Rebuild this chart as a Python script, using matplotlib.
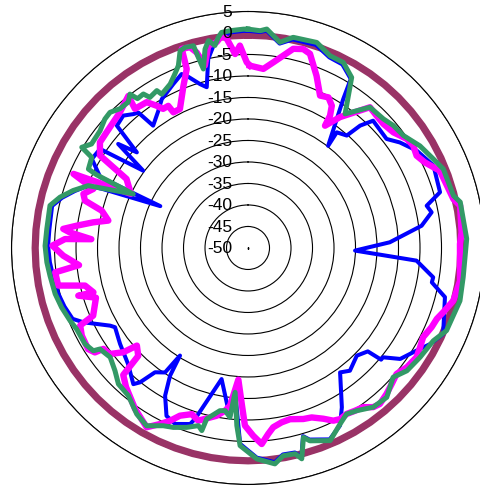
import numpy as np
import matplotlib
matplotlib.use("Agg")
import matplotlib.pyplot as plt
from matplotlib.transforms import ScaledTranslation

# radial axis range and ring labels
r_min, r_max = -50, 5
ring_labels = list(range(-50, 6, 5))

# series 1: flat reference ring
maroon_ang = list(range(0, 361, 5))
maroon_val = [-0.5] * len(maroon_ang)

# series 2 (blue): angle in degrees clockwise from top, value
blue_ang = [0, 3.2, 4.9, 8.8, 12.1, 18.5, 23.1, 27.2, 31.3, 32.6, 38.1, 37.5, 41.3, 42.5,
            44.5, 51.8, 55.2, 60.0, 66.0, 73.8, 76.7, 79.0, 82.7, 87.7, 91.4, 94.3, 99.0,
            100.6, 104.0, 113.8, 117.8, 121.3, 126.1, 129.0, 130.0, 130.8, 134.7, 140.3,
            143.5, 149.5, 152.6, 156.9, 162.2, 163.7, 165.7, 167.1, 170.4, 172.9, 177.6,
            182.3, 185.1, 186.1, 191.4, 197.2, 198.2, 202.5, 205.9, 209.3, 211.4, 212.3,
            213.7, 216.8, 218.8, 220.1, 226.0, 233.1, 234.9, 239.2, 240.6, 245.7, 248.0,
            252.3, 256.6, 262.0, 265.9, 270.6, 275.4, 282.1, 285.1, 288.2, 291.3, 292.1,
            295.5, 295.6, 299.7, 303.8, 306.4, 308.7, 310.7, 313.0, 316.7, 319.4, 321.0,
            322.2, 326.8, 329.9, 335.5, 339.1, 340.4, 343.7, 345.6, 348.1, 350.3, 352.0,
            355.3, 358.8]
blue_val = [0.5, 0.3, 0.7, -1.9, -0.4, -0.2, -1.8, -2.0, -4.0, -8.9, -19.8, -16.1, -15.2, -11.4,
            -8.5, -9.0, -7.0, -4.7, -2.8, -3.5, -7.3, -6.5, -9.3, -17.0, -25.1, -10.7, -6.4,
            -6.5, -2.8, -0.4, -2.1, -4.1, -6.2, -9.6, -9.6, -13.2, -14.4, -12.9,
            -14.0, -7.0, -3.5, -1.6, -3.2, -4.4, 0.2, -1.2, -1.3, 0.2, -1.2,
            -4.4, -16.3, -10.4, -18.9, -8.4, -6.9, -5.7, -6.6, -10.6, -15.2, -20.4,
            -15.2, -13.9, -9.9, -8.6, -11.2, -12.8, -13.2, -14.0, -13.2, -8.0, -6.0,
            -5.2, -4.6, -4.2, -3.8, -3.5, -3.6, -3.4, -5.2, -7.6, -10.1, -13.6,
            -27.4, -11.9, -8.2, -8.6, -19.7, -11.3, -15.9, -8.3, -7.7, -9.0, -9.5,
            -14.0, -11.9, -10.0, -8.1, -6.7, -7.5, -10.3, -11.4, -5.1, -2.3, -0.9,
            0.3, 0.5]

# series 3 (magenta)
magenta_ang = [0.6, 4.9, 7.8, 10.4, 12.8, 15.5, 17.7, 21.7, 25.3, 28.1, 30.5, 31.8, 32.2, 35.1,
               40.9, 44.2, 47.5, 51.5, 55.5, 58.2, 61.3, 64.2, 68.1, 76.6, 78.7, 85.8, 88.9,
               98.8, 104.4, 108.2, 110.6, 113.3, 117.0, 120.0, 122.9, 126.9, 130.3, 133.4,
               136.5, 139.8, 141.8, 144.1, 146.7, 149.3, 151.7, 153.7, 156.2, 159.4, 162.1,
               166.2, 169.1, 172.0, 173.8, 176.0, 178.4, 181.0, 182.3, 184.2, 186.5, 188.0,
               190.6, 196.1, 198.7, 202.1, 204.3, 206.6, 209.5, 215.1, 221.3, 224.5, 225.5,
               228.7, 230.1, 232.5, 235.1, 235.7, 237.7, 242.2, 245.2, 246.4, 251.9, 254.3,
               254.0, 257.0, 258.2, 258.8, 262.8, 264.2, 267.6, 270.7, 272.8, 273.2, 275.0,
               275.9, 277.4, 279.4, 281.1, 284.3, 286.2, 288.2, 290.9, 293.0, 294.8, 299.6,
               302.0, 305.5, 309.3, 316.7, 321.8, 320.9, 325.2, 327.3, 328.6, 330.7, 331.2,
               333.9, 338.3, 341.1, 341.6, 343.9, 345.3, 346.7, 348.9, 351.3, 352.9, 354.2,
               356.2, 357.7, 359.6]
magenta_val = [-7.6, -8.2, -6.4, -4.5, -2.5, -2.0, -2.6, -6.9, -10.8, -10.3, -11.6, -13.8, -16.4, -12.8,
               -6.7, -7.1, -7.3, -6.8, -5.2, -4.8, -5.3, -4.3, -1.9, -0.9, 0.3, -0.2, -0.7,
               -0.1, -0.7, -2.2, -3.1, -3.5, -4.3, -3.8, -3.3, -3.8, -4.7, -4.0,
               -3.2, -2.5, -2.9, -4.3, -4.7, -5.1, -4.8, -5.2, -6.6, -7.9, -8.2,
               -9.0, -8.7, -7.9, -6.5, -4.3, -6.3, -8.7, -13.7, -19.3, -13.1, -11.8,
               -10.3, -8.2, -9.2, -7.9, -5.9, -4.2, -2.1, -4.3, -7.0, -8.6, -14.2,
               -15.6, -12.2, -9.5, -9.0, -6.9, -6.0, -6.3, -7.0, -10.7, -12.8, -9.0,
               -12.6, -11.1, -7.3, -5.0, -4.8, -10.5, -7.0, -4.5, -7.4, -13.5, -8.4,
               -6.8, -9.8, -13.5, -16.9, -14.9, -10.5, -9.7, -11.5, -5.9, -20.0, -17.5,
               -9.4, -7.7, -7.5, -6.6, -5.0, -8.3, -8.7, -10.7, -12.1, -12.1, -14.0,
               -14.0, -9.4, -6.0, -1.2, -1.4, -3.0, -6.4, -2.0, -1.6, -0.3, -1.1,
               -4.8, -2.9, -6.8]

# series 4 (green)
green_ang = [0, 3.2, 4.9, 8.8, 12.1, 18.5, 23.1, 27.2, 31.3, 35.9, 40.9, 46.4, 49.9, 54.1,
             59.3, 64.3, 68.0, 75.7, 77.8, 87.6, 97.7, 104.0, 112.6, 116.6, 122.4, 127.7,
             131.7, 137.1, 141.8, 146.3, 149.3, 152.4, 156.9, 162.2, 163.7, 165.7, 167.1,
             170.4, 172.9, 177.6, 182.3, 183.6, 185.1, 186.1, 188.0, 189.8, 193.6, 194.2,
             195.6, 198.9, 202.6, 205.5, 209.7, 213.8, 219.0, 223.6, 227.3, 231.6, 235.7,
             236.4, 239.5, 244.7, 247.8, 252.3, 256.6, 262.0, 265.9, 270.6, 275.4, 282.1,
             285.1, 288.2, 291.3, 295.2, 295.8, 296.3, 300.1, 301.2, 303.6, 308.4, 312.0,
             314.5, 317.4, 320.6, 322.5, 323.5, 325.8, 326.9, 329.9, 330.7, 334.6, 337.2,
             339.1, 341.0, 342.6, 344.9, 345.4, 346.0, 347.8, 349.2, 350.7, 352.0, 353.0,
             355.3, 358.8]
green_val = [0.9, 0.6, 1.1, -1.6, 0.1, 0.4, -1.4, -1.5, -3.6, -11.5, -6.7, -6.5, -5.8, -5.4,
             -3.5, -2.2, -1.0, -0.7, 0.5, 0.9, 0.5, 0.8, 0.0, -1.8, -2.6, -3.3,
             -4.8, -2.6, -2.9, -4.5, -5.1, -3.8, -1.3, -2.9, -4.1, 0.6, -0.9,
             -1.0, 0.6, -0.9, -4.0, -8.6, -16.3, -10.4, -11.8, -11.6, -9.1, -6.2,
             -7.1, -5.9, -4.8, -4.2, -2.4, -3.5, -5.8, -6.3, -7.9, -9.1, -8.3,
             -6.8, -6.0, -5.9, -5.3, -4.5, -3.9, -3.5, -3.1, -2.8, -3.0, -2.9,
             -4.7, -7.2, -10.1, -20.5, -10.9, -8.6, -8.0, -4.8, -6.3, -6.1, -5.2,
             -5.0, -6.0, -6.1, -4.9, -6.8, -6.7, -8.2, -7.7, -9.0, -7.8, -6.1,
             -4.6, -1.5, -1.1, -1.3, -4.2, -7.1, -2.7, -0.9, -2.3, -0.5, 0.5,
             0.7, 0.9]


def closed(ang, val):
    a = list(ang) + [ang[0] + 360]
    v = list(val) + [val[0]]
    return np.deg2rad(a), v


fig = plt.figure(figsize=(4.8, 4.89), dpi=100)
ax = fig.add_axes([0.024, 0.0072, 0.9854, 0.9673], projection="polar")
ax.set_theta_zero_location("N")
ax.set_theta_direction(-1)

ax.plot(np.deg2rad(maroon_ang), maroon_val, color="#993366", lw=5.2, zorder=3)
t, v = closed(blue_ang, blue_val)
ax.plot(t, v, color="#0000ff", lw=2.9, zorder=4)
t, v = closed(magenta_ang, magenta_val)
ax.plot(t, v, color="#ff00ff", lw=4.6, zorder=5)
t, v = closed(green_ang, green_val)
ax.plot(t, v, color="#339966", lw=3.6, zorder=6)

# small mark at the centre
ax.plot([0], [r_min], "s", color="black", ms=1.3, mew=0, zorder=7)

ax.set_ylim(r_min, r_max)
ax.set_yticks(ring_labels)
ax.set_yticklabels([])
ax.tick_params(axis="y", length=0, width=0)
ax.set_xticks([])
ax.yaxis.grid(True, color="black", lw=0.8)
ax.spines["polar"].set_color("black")
ax.spines["polar"].set_linewidth(0.8)

shift = ax.transData + ScaledTranslation(-0.16, 0, fig.dpi_scale_trans)
for r in ring_labels:
    ax.text(0, r, str(r), transform=shift, ha="right", va="center",
            fontsize=12.5, family="Liberation Sans", color="black", zorder=10)

fig.savefig("out.png", dpi=100, facecolor="white")
